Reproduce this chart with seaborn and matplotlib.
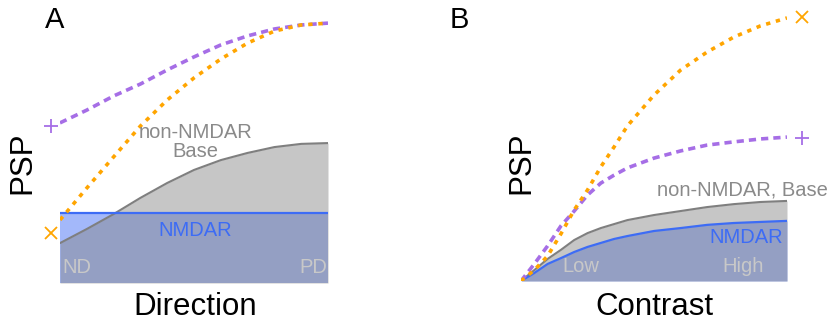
import numpy as np
import pandas as pd
import seaborn as sns
import matplotlib.pyplot as plt

# panel A: direction tuning (ND -> PD)
dir_x = [0.0, 0.1, 0.2, 0.3, 0.4, 0.5, 0.6, 0.7, 0.8, 0.9, 1.0]
dir_base = [0.150, 0.203, 0.259, 0.320, 0.376, 0.425, 0.462, 0.489, 0.511, 0.523, 0.526]
dir_nmdar = [0.263, 0.263, 0.263, 0.263, 0.263, 0.263, 0.263, 0.263, 0.263, 0.263, 0.263]
dir_mult = [0.237, 0.357, 0.474, 0.590, 0.688, 0.771, 0.842, 0.902, 0.947, 0.970, 0.977]
dir_add = [0.602, 0.650, 0.703, 0.748, 0.801, 0.850, 0.895, 0.929, 0.955, 0.970, 0.977]
dir_marker_x = -0.034
dir_mult_marker = 0.188
dir_add_marker = 0.590

# panel B: contrast response (Low -> High)
con_x = [0.0, 0.05, 0.1, 0.15, 0.2, 0.25, 0.3, 0.35, 0.4, 0.5, 0.6, 0.7, 0.8, 0.9, 1.0]
con_base = [0.0, 0.041, 0.083, 0.117, 0.154, 0.180, 0.199, 0.214, 0.229,
            0.248, 0.263, 0.278, 0.289, 0.297, 0.301]
con_nmdar = [0.0, 0.030, 0.064, 0.086, 0.109, 0.128, 0.143, 0.158, 0.169,
             0.188, 0.199, 0.211, 0.218, 0.222, 0.226]
con_mult = [0.0, 0.041, 0.094, 0.177, 0.267, 0.342, 0.429, 0.504, 0.583,
            0.699, 0.793, 0.861, 0.917, 0.959, 0.989]
con_add = [0.0, 0.064, 0.132, 0.207, 0.263, 0.323, 0.368, 0.398, 0.425,
           0.462, 0.489, 0.511, 0.523, 0.534, 0.541]
con_marker_x = 1.056
con_mult_marker = 0.992
con_add_marker = 0.538

sns.set_style('white')
plt.rcParams['font.family'] = ['Liberation Sans', 'DejaVu Sans']
plt.rcParams['text.color'] = 'black'

GRAY_LINE = '#7f7f7f'
GRAY_FILL = '#828282'
BLUE_LINE = '#3d6cf5'
BLUE_FILL = '#a3b8fa'
ORANGE = '#ffa500'
PURPLE = '#a66ee6'
LABEL_GRAY = '#8a8a8a'
LIGHT = '#c8c8c8'

fig = plt.figure(figsize=(8.35, 3.28), dpi=100)
axA = fig.add_axes([60 / 835, 45 / 328, 268 / 835, 266 / 328])
axB = fig.add_axes([521 / 835, 47 / 328, 266 / 835, 266 / 328])


def draw_panel(ax, x, base, nmdar, mult, add, mx, m_mult, m_add):
    ax.fill_between(x, 0, nmdar, color=BLUE_FILL, lw=0, zorder=1)
    ax.fill_between(x, 0, base, color=GRAY_FILL, alpha=0.45, lw=0, zorder=2)
    df = pd.DataFrame({'x': x, 'base': base, 'nmdar': nmdar, 'mult': mult, 'add': add})
    sns.lineplot(data=df, x='x', y='base', ax=ax, color=GRAY_LINE, lw=1.5, zorder=3)
    sns.lineplot(data=df, x='x', y='nmdar', ax=ax, color=BLUE_LINE, lw=1.6, zorder=4)
    sns.lineplot(data=df, x='x', y='add', ax=ax, color=PURPLE, lw=2.6,
                 linestyle=(0, (2.0, 1.4)), zorder=5)
    sns.lineplot(data=df, x='x', y='mult', ax=ax, color=ORANGE, lw=2.6,
                 linestyle=(0, (1.2, 1.6)), zorder=6)
    ax.plot([mx], [m_mult], marker='x', ms=8, mew=1.3, color=ORANGE, clip_on=False, ls='none')
    ax.plot([mx], [m_add], marker='+', ms=10, mew=1.3, color=PURPLE, clip_on=False, ls='none')
    ax.set_xlim(0, 1)
    ax.set_ylim(0, 1)
    ax.set_xticks([])
    ax.set_yticks([])
    ax.set_xlabel('')
    ax.set_ylabel('')
    sns.despine(ax=ax, left=True, bottom=True)
    ax.patch.set_alpha(0)


draw_panel(axA, dir_x, dir_base, dir_nmdar, dir_mult, dir_add,
           dir_marker_x, dir_mult_marker, dir_add_marker)
draw_panel(axB, con_x, con_base, con_nmdar, con_mult, con_add,
           con_marker_x, con_mult_marker, con_add_marker)

big = 22.5
small = 14.5

# panel A labels
axA.text(-0.019, 0.989, 'A', transform=axA.transAxes, fontsize=21, ha='center', va='center')
axA.text(-0.142, 0.451, 'PSP', transform=axA.transAxes, fontsize=big, rotation=90,
         ha='center', va='center')
axA.text(0.504, -0.090, 'Direction', transform=axA.transAxes, fontsize=big,
         ha='center', va='center')
axA.text(0.504, 0.530, 'non-NMDAR\nBase', transform=axA.transAxes, fontsize=small,
         color=LABEL_GRAY, ha='center', va='center', linespacing=1.0, zorder=10)
axA.text(0.504, 0.199, 'NMDAR', transform=axA.transAxes, fontsize=small,
         color=BLUE_LINE, ha='center', va='center', zorder=10)
axA.text(0.007, 0.060, 'ND', transform=axA.transAxes, fontsize=small,
         color=LIGHT, ha='left', va='center', zorder=10)
axA.text(0.996, 0.060, 'PD', transform=axA.transAxes, fontsize=small,
         color=LIGHT, ha='right', va='center', zorder=10)

# panel B labels
axB.text(-0.233, 0.981, 'B', transform=axB.transAxes, fontsize=21, ha='center', va='center')
axB.text(0.0, 0.444, 'PSP', transform=axB.transAxes, fontsize=big, rotation=90,
         ha='center', va='center')
axB.text(0.5, -0.098, 'Contrast', transform=axB.transAxes, fontsize=big,
         ha='center', va='center')
axB.text(0.511, 0.342, 'non-NMDAR, Base', transform=axB.transAxes, fontsize=small,
         color=LABEL_GRAY, ha='left', va='center', zorder=10)
axB.text(0.985, 0.165, 'NMDAR', transform=axB.transAxes, fontsize=small,
         color=BLUE_LINE, ha='right', va='center', zorder=10)
axB.text(0.226, 0.053, 'Low', transform=axB.transAxes, fontsize=small,
         color=LIGHT, ha='center', va='center', zorder=10)
axB.text(0.835, 0.053, 'High', transform=axB.transAxes, fontsize=small,
         color=LIGHT, ha='center', va='center', zorder=10)

fig.savefig('out.png', dpi=100)
